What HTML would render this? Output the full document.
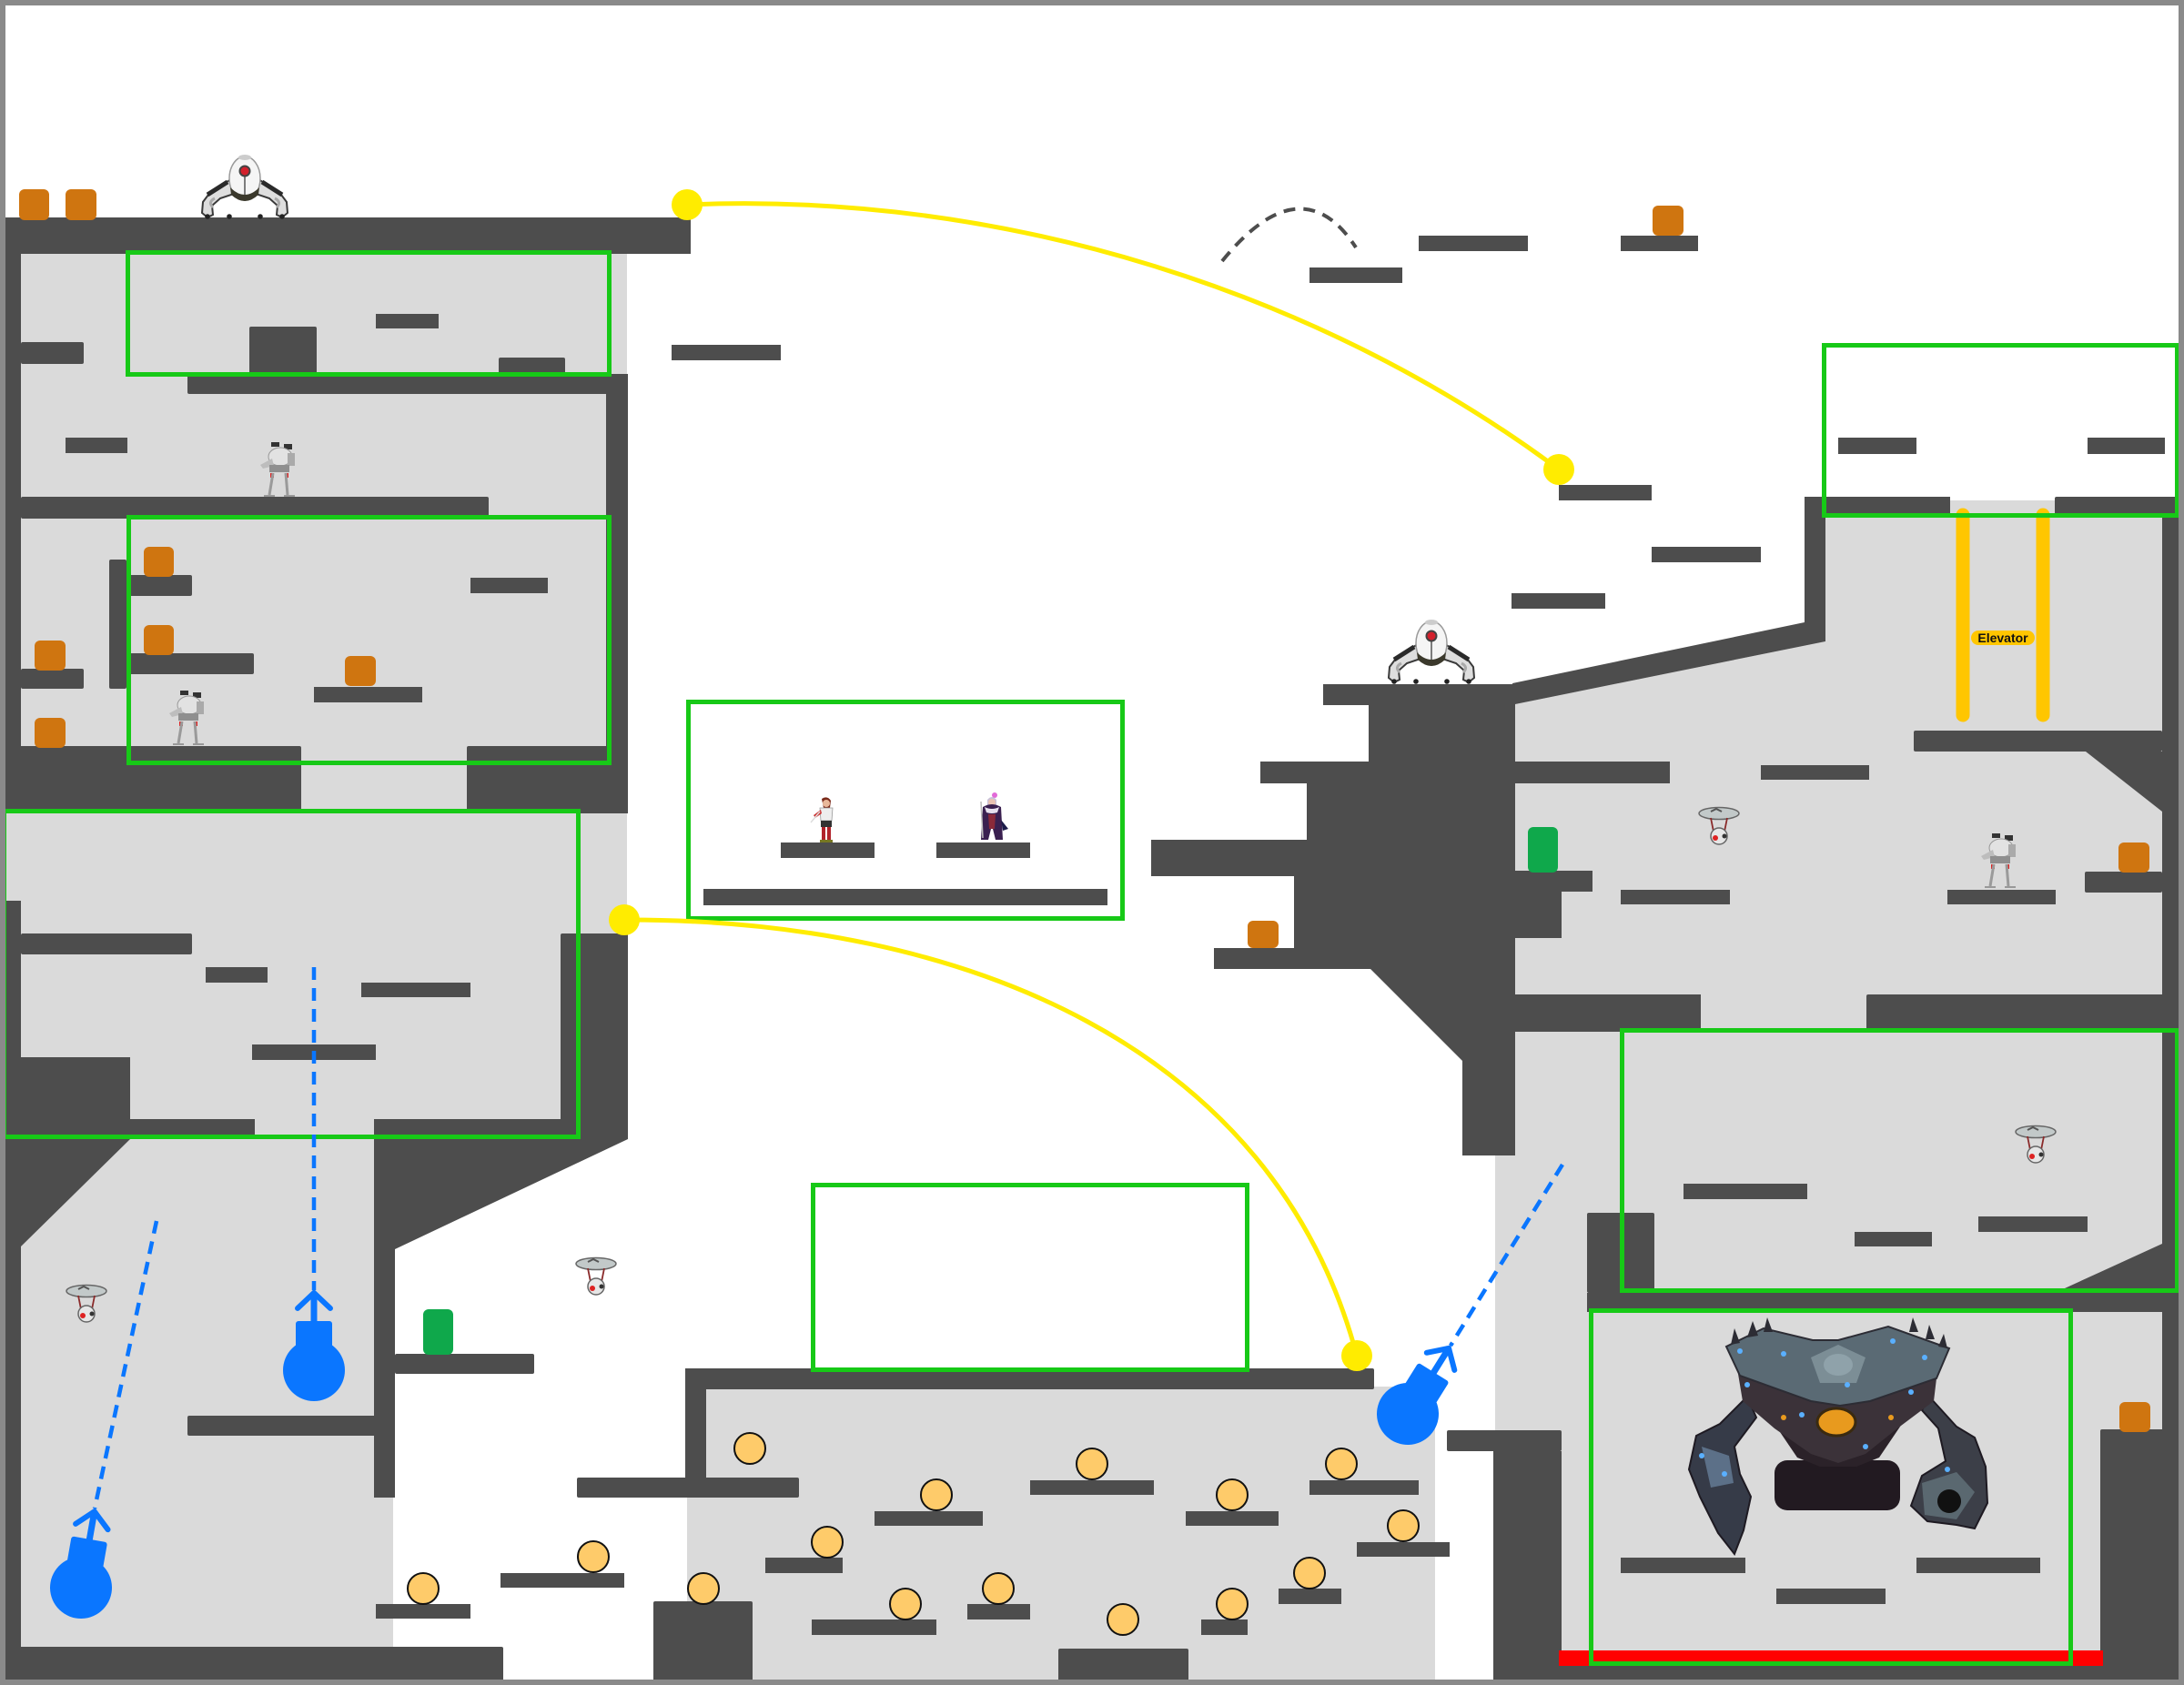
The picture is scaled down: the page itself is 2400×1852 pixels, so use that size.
<!DOCTYPE html>
<html>
<head>
<meta charset="utf-8">
<style>
html,body{margin:0;padding:0;background:#fff;}
svg{display:block;}
</style>
</head>
<body>
<svg width="2400" height="1852" viewBox="0 0 2400 1852" xmlns="http://www.w3.org/2000/svg">
<defs>
  <g id="sentry">
    <path d="M36,28 L12,42 L3,54 L2,66 L8,71 L14,68 L13,58 L22,50 L40,44 Z" fill="#dedede" stroke="#3a3a3a" stroke-width="2"/>
    <path d="M62,28 L86,42 L95,54 L96,66 L90,71 L84,68 L85,58 L76,50 L58,44 Z" fill="#dedede" stroke="#3a3a3a" stroke-width="2"/>
    <path d="M8,46 L30,32 M90,46 L68,32" stroke="#2a2a2a" stroke-width="5"/>
    <path d="M14,60 Q8,54 16,50 M84,60 Q90,54 82,50" stroke="#aaa" stroke-width="3" fill="none"/>
    <ellipse cx="49" cy="28" rx="17" ry="24" fill="#f5f5f5" stroke="#9a9a9a" stroke-width="1.5"/>
    <path d="M33,38 Q49,54 65,38 L64,46 Q49,60 34,46 Z" fill="#3b392c"/>
    <line x1="49" y1="26" x2="49" y2="46" stroke="#555" stroke-width="1.5"/>
    <ellipse cx="49" cy="5" rx="7" ry="3" fill="#ccc"/>
    <circle cx="49" cy="20" r="5.5" fill="#d3202c" stroke="#444" stroke-width="2"/>
    <circle cx="8" cy="70" r="2.8" fill="#222"/><circle cx="32" cy="70" r="2.8" fill="#222"/>
    <circle cx="66" cy="70" r="2.8" fill="#222"/><circle cx="90" cy="70" r="2.8" fill="#222"/>
  </g>
  <g id="mech">
    <rect x="12" y="2" width="9" height="5" fill="#333"/>
    <rect x="26" y="4" width="9" height="6" fill="#333"/>
    <ellipse cx="22" cy="18" rx="13" ry="10" fill="#e2e2e2" stroke="#999"/>
    <path d="M0,27 L13,20 L15,28 L3,31 Z" fill="#bdbdbd"/>
    <rect x="30" y="14" width="8" height="14" fill="#aaa"/>
    <rect x="10" y="27" width="22" height="8" fill="#8f8f8f"/>
    <rect x="11" y="36" width="4" height="5" fill="#d22"/>
    <rect x="27" y="36" width="4" height="5" fill="#d22"/>
    <line x1="14" y1="36" x2="10" y2="60" stroke="#9a9a9a" stroke-width="3"/>
    <line x1="28" y1="36" x2="30" y2="60" stroke="#9a9a9a" stroke-width="3"/>
    <line x1="4" y1="61" x2="16" y2="61" stroke="#999" stroke-width="2"/>
    <line x1="26" y1="61" x2="38" y2="61" stroke="#999" stroke-width="2"/>
  </g>
  <g id="hover">
    <ellipse cx="23" cy="9" rx="22" ry="6.5" fill="#c2c9c9" stroke="#666" stroke-width="1.5"/>
    <path d="M14,7 L20,4 L26,7" stroke="#555" stroke-width="2" fill="none"/>
    <line x1="14" y1="14" x2="17" y2="29" stroke="#8a2a2a" stroke-width="1.8"/>
    <line x1="32" y1="14" x2="29" y2="29" stroke="#8a2a2a" stroke-width="1.8"/>
    <circle cx="23" cy="34" r="9" fill="#e6e6e6" stroke="#666" stroke-width="1.5"/>
    <circle cx="19" cy="36" r="3" fill="#d22"/>
    <circle cx="29" cy="34" r="2.5" fill="#333"/>
  </g>
</defs>

<!-- light gray regions -->
<g fill="#dadada">
  <rect x="0" y="279" width="689" height="973"/>
  <rect x="0" y="1252" width="432" height="600"/>
  <rect x="755" y="1524" width="822" height="328"/>
  <polygon points="1665,774 2006,705 2006,567 2143,567 2143,550 2258,550 2258,567 2376,567 2376,1852 1643,1852 1643,1134 1665,1134"/>
</g>

<!-- dark structures -->
<g fill="#4d4d4d">
  <rect x="0" y="239" width="759" height="40"/>
  <rect x="0" y="239" width="23" height="655"/>
  <rect x="23" y="376" width="69" height="24" rx="2"/>
  <rect x="274" y="359" width="74" height="52" rx="2"/>
  <rect x="413" y="345" width="69" height="16"/>
  <rect x="548" y="393" width="73" height="18" rx="2"/>
  <rect x="206" y="411" width="484" height="22" rx="2"/>
  <rect x="666" y="411" width="24" height="483"/>
  <rect x="72" y="481" width="68" height="17"/>
  <rect x="23" y="546" width="514" height="24" rx="2"/>
  <rect x="120" y="615" width="19" height="142" rx="2"/>
  <rect x="139" y="632" width="72" height="23" rx="2"/>
  <rect x="139" y="718" width="140" height="23" rx="2"/>
  <rect x="517" y="635" width="85" height="17"/>
  <rect x="23" y="735" width="69" height="22" rx="2"/>
  <rect x="345" y="755" width="119" height="17"/>
  <rect x="0" y="820" width="331" height="74" rx="2"/>
  <rect x="513" y="820" width="177" height="74" rx="2"/>

  <rect x="0" y="990" width="23" height="862"/>
  <rect x="23" y="1026" width="188" height="23" rx="2"/>
  <rect x="226" y="1063" width="68" height="17"/>
  <rect x="397" y="1080" width="120" height="16"/>
  <rect x="277" y="1148" width="136" height="17"/>
  <rect x="0" y="1162" width="143" height="90"/>
  <rect x="143" y="1230" width="137" height="22"/>
  <rect x="411" y="1230" width="279" height="22"/>
  <rect x="616" y="1026" width="74" height="226" rx="2"/>
  <polygon points="0,1252 143,1252 23,1370 0,1370"/>
  <polygon points="411,1252 690,1252 434,1373 434,1646 411,1646"/>
  <rect x="434" y="1488" width="153" height="22" rx="2"/>
  <rect x="206" y="1556" width="228" height="22" rx="2"/>
  <rect x="0" y="1810" width="553" height="42" rx="2"/>
  <rect x="634" y="1624" width="244" height="22" rx="2"/>
  <rect x="413" y="1763" width="104" height="16"/>
  <rect x="550" y="1729" width="136" height="16"/>

  <rect x="738" y="379" width="120" height="17"/>
  <rect x="1439" y="294" width="102" height="17"/>
  <rect x="1559" y="259" width="120" height="17"/>
  <rect x="1781" y="259" width="85" height="17"/>
  <rect x="1713" y="533" width="102" height="17"/>
  <rect x="1815" y="601" width="120" height="17"/>
  <rect x="1661" y="652" width="103" height="17"/>
  <rect x="858" y="926" width="103" height="17"/>
  <rect x="1029" y="926" width="103" height="17"/>
  <rect x="773" y="977" width="444" height="18"/>

  <rect x="753" y="1504" width="757" height="23" rx="2"/>
  <rect x="753" y="1504" width="23" height="142"/>
  <rect x="961" y="1661" width="119" height="16"/>
  <rect x="1132" y="1627" width="136" height="16"/>
  <rect x="841" y="1712" width="85" height="17"/>
  <rect x="892" y="1780" width="137" height="17"/>
  <rect x="1063" y="1763" width="69" height="17"/>
  <rect x="1303" y="1661" width="102" height="16"/>
  <rect x="1439" y="1627" width="120" height="16"/>
  <rect x="1491" y="1695" width="102" height="16"/>
  <rect x="1405" y="1746" width="69" height="17"/>
  <rect x="1320" y="1780" width="51" height="17"/>
  <rect x="718" y="1760" width="109" height="92" rx="2"/>
  <rect x="1163" y="1812" width="143" height="40" rx="2"/>

  <polygon points="1662,751 1983,684 1983,546 2006,546 2006,705 1665,774"/>
  <polygon points="1454,752 1665,752 1665,1270 1607,1270 1607,1166 1506,1065 1334,1065 1334,1042 1422,1042 1422,963 1265,963 1265,923 1436,923 1436,861 1385,861 1385,837 1504,837 1504,775 1454,775"/>
  <rect x="1665" y="837" width="170" height="24"/>
  <rect x="1665" y="957" width="85" height="23"/>
  <rect x="1665" y="980" width="51" height="51"/>
  <rect x="1935" y="841" width="119" height="16"/>
  <rect x="1781" y="978" width="120" height="16"/>
  <rect x="2140" y="978" width="119" height="16"/>
  <rect x="2291" y="958" width="85" height="23" rx="2"/>
  <rect x="1665" y="1093" width="204" height="41"/>
  <rect x="2051" y="1093" width="349" height="41" rx="2"/>
  <rect x="2376" y="567" width="24" height="1285"/>
  <rect x="2103" y="803" width="273" height="23" rx="2"/>
  <polygon points="2292,826 2376,826 2376,892"/>
  <rect x="2006" y="546" width="137" height="21"/>
  <rect x="2258" y="546" width="142" height="21" rx="2"/>
  <rect x="2020" y="481" width="86" height="18"/>
  <rect x="2294" y="481" width="85" height="18"/>

  <rect x="1744" y="1333" width="74" height="88" rx="2"/>
  <rect x="1744" y="1421" width="656" height="21"/>
  <rect x="1850" y="1301" width="136" height="17"/>
  <rect x="2038" y="1354" width="85" height="16"/>
  <rect x="2174" y="1337" width="120" height="17"/>
  <polygon points="2258,1421 2376,1367 2376,1421"/>
  <rect x="1590" y="1572" width="126" height="23" rx="2"/>
  <rect x="1641" y="1595" width="75" height="257"/>
  <rect x="2308" y="1571" width="92" height="281" rx="2"/>
  <rect x="1641" y="1831" width="759" height="21"/>
  <rect x="1781" y="1712" width="137" height="17"/>
  <rect x="2106" y="1712" width="136" height="17"/>
  <rect x="1952" y="1746" width="120" height="17"/>
</g>

<rect x="1713" y="1814" width="598" height="17" fill="#ff0000"/>

<!-- orange boxes -->
<g fill="#cf7510">
  <rect x="21" y="208" width="33" height="34" rx="6"/>
  <rect x="72" y="208" width="34" height="34" rx="6"/>
  <rect x="158" y="601" width="33" height="33" rx="6"/>
  <rect x="158" y="687" width="33" height="33" rx="6"/>
  <rect x="38" y="704" width="34" height="33" rx="6"/>
  <rect x="38" y="789" width="34" height="33" rx="6"/>
  <rect x="379" y="721" width="34" height="33" rx="6"/>
  <rect x="1816" y="226" width="34" height="33" rx="6"/>
  <rect x="1371" y="1012" width="34" height="30" rx="6"/>
  <rect x="2328" y="926" width="34" height="33" rx="6"/>
  <rect x="2329" y="1541" width="34" height="33" rx="6"/>
</g>
<g fill="#0fa84b">
  <rect x="465" y="1439" width="33" height="50" rx="6"/>
  <rect x="1679" y="909" width="33" height="50" rx="6"/>
</g>

<!-- coins -->
<g fill="#fecb6a" stroke="#111" stroke-width="2">
  <circle cx="824" cy="1592" r="17"/>
  <circle cx="1029" cy="1643" r="17"/>
  <circle cx="1200" cy="1609" r="17"/>
  <circle cx="909" cy="1695" r="17"/>
  <circle cx="773" cy="1746" r="17"/>
  <circle cx="995" cy="1763" r="17"/>
  <circle cx="1097" cy="1746" r="17"/>
  <circle cx="1234" cy="1780" r="17"/>
  <circle cx="1354" cy="1643" r="17"/>
  <circle cx="1474" cy="1609" r="17"/>
  <circle cx="1542" cy="1677" r="17"/>
  <circle cx="1439" cy="1729" r="17"/>
  <circle cx="1354" cy="1763" r="17"/>
  <circle cx="465" cy="1746" r="17"/>
  <circle cx="652" cy="1711" r="17"/>
</g>

<!-- elevator -->
<g stroke="#ffc600" stroke-width="15" stroke-linecap="round">
  <line x1="2157" y1="566" x2="2157" y2="786"/>
  <line x1="2245" y1="566" x2="2245" y2="786"/>
</g>
<rect x="2166" y="693" width="70" height="16" rx="8" fill="#ffc600"/>
<text x="2201" y="706" text-anchor="middle" font-family="Liberation Sans, sans-serif" font-weight="bold" font-size="14" fill="#111">Elevator</text>

<!-- sprites -->
<use href="#sentry" transform="translate(220,168)"/>
<use href="#sentry" transform="translate(1524,679)"/>
<use href="#mech" transform="translate(286,484)"/>
<use href="#mech" transform="translate(186,757)"/>
<use href="#mech" transform="translate(2177,914)"/>
<use href="#hover" transform="translate(72,1410)"/>
<use href="#hover" transform="translate(632,1380)"/>
<use href="#hover" transform="translate(1866,885)"/>
<use href="#hover" transform="translate(2214,1235)"/>

<!-- characters -->
<g transform="translate(889,874)">
  <path d="M14,4 Q20,0 24,6 L23,14 L16,14 Z" fill="#7a2a1a"/>
  <circle cx="19" cy="9" r="4" fill="#e8b89a"/>
  <path d="M12,14 L26,14 L25,28 L13,28 Z" fill="#eee" stroke="#999" stroke-width="0.8"/>
  <path d="M5,22 L13,16 L14,20 L7,25 Z" fill="#c33"/>
  <line x1="2" y1="30" x2="12" y2="18" stroke="#ddd" stroke-width="1.5"/>
  <rect x="13" y="28" width="12" height="7" fill="#333"/>
  <rect x="14" y="35" width="4" height="14" fill="#b1222a"/>
  <rect x="20" y="35" width="4" height="14" fill="#b1222a"/>
  <rect x="12" y="49" width="14" height="3" fill="#772"/>
</g>
<g transform="translate(1072,871)">
  <circle cx="21" cy="3" r="3" fill="#e26ad8"/>
  <path d="M13,8 Q18,2 23,8 L23,14 L13,14 Z" fill="#c8c0d8"/>
  <circle cx="18" cy="11" r="4" fill="#e9c2b2"/>
  <path d="M8,16 Q18,10 28,16 L30,52 L22,52 L18,36 L14,52 L6,52 Z" fill="#3a2050"/>
  <path d="M10,16 Q18,20 26,16 L24,22 Q18,24 12,22 Z" fill="#e6e0ee"/>
  <path d="M14,24 L22,24 L21,40 L15,40 Z" fill="#8a2a3a"/>
  <path d="M28,30 L36,40 L30,42 Z" fill="#1c1c4a"/>
  <line x1="6" y1="10" x2="8" y2="50" stroke="#bbb" stroke-width="1.5"/>
</g>

<!-- boss -->
<g transform="translate(1850,1440)">
  <path d="M70,95 L40,125 L14,138 L6,175 L18,205 L38,245 L56,268 L66,242 L74,205 L62,180 L56,150 L80,118 Z" fill="#363b48" stroke="#1e1a22" stroke-width="2"/>
  <path d="M20,150 L50,160 L55,190 L30,195 Z" fill="#5c7088"/>
  <path d="M270,95 L300,128 L320,140 L332,172 L334,212 L320,240 L300,236 L268,232 L250,215 L262,182 L288,166 L280,130 L262,110 Z" fill="#3c3f48" stroke="#1e1a22" stroke-width="2"/>
  <path d="M262,190 L300,178 L320,200 L300,230 L265,225 Z" fill="#5a6870"/>
  <circle cx="292" cy="210" r="13" fill="#111"/>
  <rect x="100" y="165" width="138" height="55" rx="14" fill="#221a21"/>
  <path d="M100,125 L240,125 L215,162 L190,172 L150,172 L125,162 Z" fill="#2b2229"/>
  <path d="M60,70 L140,100 L172,105 L205,100 L278,75 L275,100 L235,130 L200,158 L170,168 L140,158 L100,130 L65,100 Z" fill="#3b3239"/>
  <path d="M47,40 L88,20 L142,33 L170,33 L225,18 L292,42 L278,75 L205,100 L172,105 L140,100 L62,72 Z" fill="#5a6a74" stroke="#2c2c34" stroke-width="2"/>
  <path d="M140,52 L170,38 L200,52 L190,80 L150,80 Z" fill="#7c8e96"/>
  <ellipse cx="170" cy="60" rx="16" ry="12" fill="#8fa2aa"/>
  <g fill="#5ab0ff">
    <circle cx="62" cy="45" r="3"/><circle cx="110" cy="48" r="3"/><circle cx="230" cy="34" r="3"/>
    <circle cx="265" cy="52" r="3"/><circle cx="130" cy="115" r="3"/><circle cx="200" cy="150" r="3"/>
    <circle cx="250" cy="90" r="3"/><circle cx="70" cy="82" r="3"/><circle cx="20" cy="160" r="3"/>
    <circle cx="45" cy="180" r="3"/><circle cx="290" cy="175" r="3"/><circle cx="180" cy="82" r="3"/>
  </g>
  <g fill="#2c2c34">
    <polygon points="52,38 56,20 62,36"/><polygon points="70,30 76,12 82,28"/><polygon points="88,24 92,8 98,24"/>
    <polygon points="248,24 252,8 258,24"/><polygon points="266,32 270,16 276,32"/><polygon points="280,40 286,26 290,42"/>
  </g>
  <ellipse cx="168" cy="123" rx="21" ry="15" fill="#e89a1e" stroke="#3a2a10" stroke-width="3"/>
  <circle cx="110" cy="118" r="3" fill="#e89a1e"/><circle cx="228" cy="118" r="3" fill="#e89a1e"/>
</g>

<!-- green frames -->
<g fill="none" stroke="#17c917" stroke-width="5">
  <rect x="140.5" y="277.5" width="529" height="134"/>
  <rect x="141.5" y="568.5" width="528" height="270"/>
  <rect x="4.5" y="891.5" width="631" height="358"/>
  <rect x="756.5" y="771.5" width="477" height="238"/>
  <rect x="2004.5" y="379.5" width="388" height="187"/>
  <rect x="1782.5" y="1132.5" width="610" height="286"/>
  <rect x="1748.5" y="1440.5" width="527" height="388"/>
  <rect x="893.5" y="1302.5" width="477" height="203"/>
</g>

<!-- yellow trajectories -->
<g fill="none" stroke="#ffec00" stroke-width="5">
  <path d="M755,225 C1100,210 1450,320 1713,516"/>
  <path d="M686,1011 C1060,1010 1400,1150 1491,1490"/>
</g>
<g fill="#ffec00">
  <circle cx="755" cy="225" r="17"/>
  <circle cx="1713" cy="516" r="17"/>
  <circle cx="686" cy="1011" r="17"/>
  <circle cx="1491" cy="1490" r="17"/>
</g>

<!-- gray dashed jump arc -->
<path d="M1343,287 Q1430,180 1490,272" fill="none" stroke="#4d4d4d" stroke-width="4" stroke-dasharray="13,9"/>

<!-- blue dashed aim lines -->
<g stroke="#0a76ff" stroke-width="4.5" stroke-dasharray="14,9" fill="none">
  <line x1="345" y1="1063" x2="345" y2="1418"/>
  <line x1="172" y1="1342" x2="104" y2="1658"/>
  <line x1="1717" y1="1280" x2="1594" y2="1479"/>
</g>

<!-- blue bombs -->
<g>
  <circle cx="345" cy="1506" r="34" fill="#0a76ff"/>
  <rect x="325" y="1452" width="40" height="34" rx="3" fill="#0a76ff"/>
  <line x1="345" y1="1454" x2="345" y2="1420" stroke="#0a76ff" stroke-width="7"/>
  <polyline points="327,1438 345,1421 363,1438" fill="none" stroke="#0a76ff" stroke-width="6" stroke-linecap="round"/>
</g>
<g transform="rotate(10,89,1745)">
  <circle cx="89" cy="1745" r="34" fill="#0a76ff"/>
  <rect x="69" y="1691" width="40" height="34" rx="3" fill="#0a76ff"/>
  <line x1="89" y1="1693" x2="89" y2="1659" stroke="#0a76ff" stroke-width="7"/>
  <polyline points="71,1677 89,1660 107,1677" fill="none" stroke="#0a76ff" stroke-width="6" stroke-linecap="round"/>
</g>
<g transform="rotate(32,1547,1554)">
  <circle cx="1547" cy="1554" r="34" fill="#0a76ff"/>
  <rect x="1527" y="1500" width="40" height="34" rx="3" fill="#0a76ff"/>
  <line x1="1547" y1="1502" x2="1547" y2="1468" stroke="#0a76ff" stroke-width="7"/>
  <polyline points="1529,1486 1547,1469 1565,1486" fill="none" stroke="#0a76ff" stroke-width="6" stroke-linecap="round"/>
</g>

<!-- outer border -->
<rect x="3" y="3" width="2394" height="1846" fill="none" stroke="#8a8a8a" stroke-width="6"/>
</svg>
</body>
</html>
